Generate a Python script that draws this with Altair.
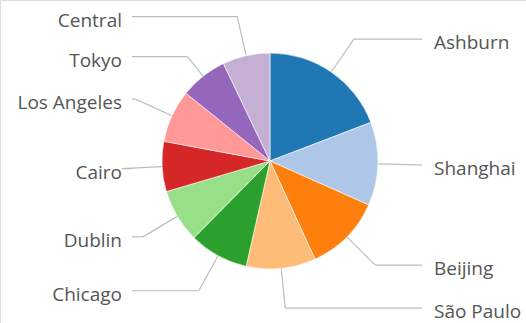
import altair as alt
import pandas as pd

cities = ["Ashburn", "Shanghai", "Beijing", "São Paulo", "Chicago",
          "Dublin", "Cairo", "Los Angeles", "Tokyo", "Central"]
shares = [19.2, 12.5, 11.5, 10.4, 8.9, 8.0, 7.5, 7.9, 7.1, 7.1]
colors = ["#1f77b4", "#aec7e8", "#ff7f0e", "#ffbb78", "#2ca02c",
          "#98df8a", "#d62728", "#ff9896", "#9467bd", "#c5b0d5"]

W, H = 526, 323
CX, CY = 270, 161
R = 108          # pie radius
RL = 148         # elbow radius of leader lines
GAP = 40         # minimum vertical gap between labels on one side
RIGHT_END = 152  # horizontal end of right leader lines (from centre)
LEFT_END = 138   # horizontal end of left leader lines (from centre)
LINE_COLOR = "#bdbdbd"
TEXT_COLOR = "#555555"
FONT = "Open Sans"
FONT_SIZE = 19

df = pd.DataFrame({"city": cities, "share": shares,
                   "order": list(range(len(cities)))})

xs = alt.Scale(domain=[0, W], nice=False, zero=False)
ys = alt.Scale(domain=[0, H], nice=False, zero=False, reverse=True)

base = (
    alt.Chart(df)
    .transform_joinaggregate(total="sum(share)")
    .transform_window(cum="sum(share)", sort=[alt.SortField("order")], frame=[None, 0])
    .transform_calculate(mid="(datum.cum - datum.share / 2) / datum.total * 2 * PI")
    .transform_calculate(right="sin(datum.mid) >= 0")
    .transform_calculate(sx=f"{CX} + {R} * sin(datum.mid)")
    .transform_calculate(sy=f"{CY} - {R} * cos(datum.mid)")
    .transform_calculate(ex0=f"{CX} + {RL} * sin(datum.mid)")
    .transform_calculate(ey0=f"{CY} - {RL} * cos(datum.mid)")
    .transform_window(prev="lag(ey0)", groupby=["right"], sort=[alt.SortField("ey0")])
    .transform_calculate(ey=f"datum.prev == null ? datum.ey0 : max(datum.ey0, datum.prev + {GAP})")
    .transform_calculate(ex=f"datum.ey == datum.ey0 ? datum.ex0 : {CX} + ({CY} - datum.ey) * tan(datum.mid)")
    .transform_calculate(hx=f"datum.right ? {CX + RIGHT_END} : {CX - LEFT_END}")
)

arc = alt.Chart(df).mark_arc(outerRadius=R, stroke="white", strokeWidth=0.6).encode(
    theta=alt.Theta("share:Q", stack=True),
    color=alt.Color("city:N", scale=alt.Scale(domain=cities, range=colors), legend=None),
    order=alt.Order("order:Q"),
    x=alt.value(CX),
    y=alt.value(CY),
)

seg1 = base.mark_rule(color=LINE_COLOR, strokeWidth=1.2).encode(
    x=alt.X("sx:Q", scale=xs, axis=None),
    y=alt.Y("sy:Q", scale=ys, axis=None),
    x2="ex:Q",
    y2="ey:Q",
)

seg2 = base.mark_rule(color=LINE_COLOR, strokeWidth=1.2).encode(
    x=alt.X("ex:Q", scale=xs, axis=None),
    x2="hx:Q",
    y=alt.Y("ey:Q", scale=ys, axis=None),
)

text_r = base.transform_filter("datum.right").mark_text(
    align="left", baseline="middle", dx=12, dy=4,
    font=FONT, fontSize=FONT_SIZE, color=TEXT_COLOR,
).encode(
    x=alt.X("hx:Q", scale=xs, axis=None),
    y=alt.Y("ey:Q", scale=ys, axis=None),
    text="city:N",
)

text_l = base.transform_filter("!datum.right").mark_text(
    align="right", baseline="middle", dx=-10, dy=4,
    font=FONT, fontSize=FONT_SIZE, color=TEXT_COLOR,
).encode(
    x=alt.X("hx:Q", scale=xs, axis=None),
    y=alt.Y("ey:Q", scale=ys, axis=None),
    text="city:N",
)

chart = (
    alt.layer(seg1, seg2, arc, text_r, text_l)
    .properties(width=W, height=H, autosize="none", padding=0)
    .configure_view(stroke=None)
    .configure(background="white")
)

chart.save("out.html", embed_options={"renderer": "svg", "actions": False})
